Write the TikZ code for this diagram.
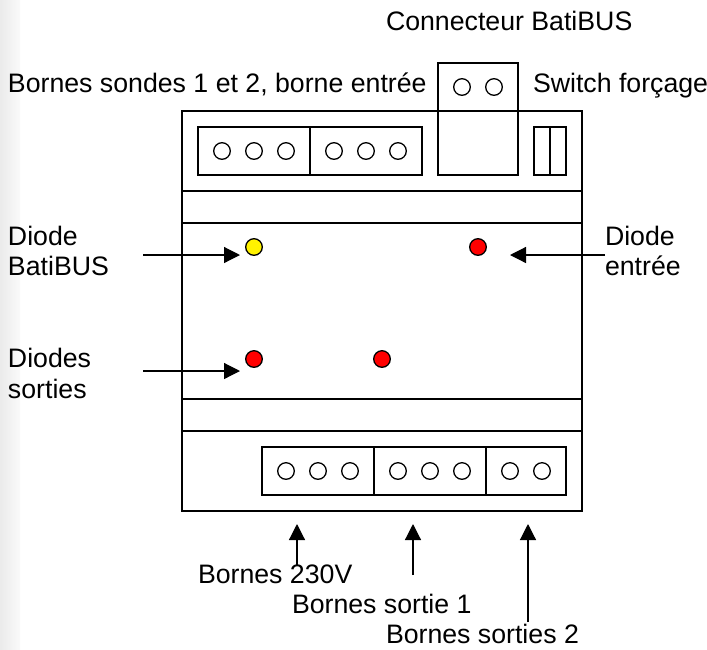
\documentclass[tikz,border=0pt]{standalone}
\usepackage{fontspec}
\setmainfont{Liberation Sans}
\usetikzlibrary{arrows.meta}
\tikzset{
  x=1pt,y=-1pt,
  lab/.style={anchor=base west,inner sep=0pt,outer sep=0pt,font=\fontsize{26.7}{30}\selectfont},
  body/.style={draw=black,line width=1.4pt},
  pin/.style={circle,draw=black,fill=white,line width=1.3pt,minimum size=16.6pt,inner sep=0pt},
  led/.style={circle,draw=black,line width=1.3pt,minimum size=16.6pt,inner sep=0pt},
  ptr/.style={draw=black,line width=1.2pt,-{Triangle[length=16pt,width=16pt]}},
}
\begin{document}
\begin{tikzpicture}
\useasboundingbox (0,0) rectangle (707,649);
\fill[white] (0,0) rectangle (707,649);
\fill[left color=black!8,right color=black!2] (0,0) rectangle (20,649);
% housing
\draw[body] (182,111) rectangle (582,511);
\draw[body] (182,191) -- (582,191);
\draw[body] (182,223) -- (582,223);
\draw[body] (182,399) -- (582,399);
\draw[body] (182,431) -- (582,431);
% top terminals
\draw[body] (198,127) rectangle (310,175);
\draw[body] (310,127) rectangle (422,175);
\foreach \n/\x in {a/222,b/254,c/286,d/334,e/366,f/398}
  \node[pin] (top\n) at (\x,151) {};
% connector
\draw[body] (438,63) rectangle (518,111);
\draw[body] (438,111) rectangle (518,175);
\node[pin] (cona) at (462,87) {};
\node[pin] (conb) at (494,87) {};
% switch
\draw[body] (534,127) rectangle (550,175);
\draw[body] (550,127) rectangle (566,175);
% diodes
\node[led,fill=yellow] (dbus) at (254,247) {};
\node[led,fill=red] (dent) at (478,247) {};
\node[led,fill=red] (dso1) at (254,359) {};
\node[led,fill=red] (dso2) at (382,359) {};
% bottom terminals
\draw[body] (262,447) rectangle (374,495);
\draw[body] (374,447) rectangle (486,495);
\draw[body] (486,447) rectangle (566,495);
\foreach \n/\x in {a/286,b/318,c/350,d/398,e/430,f/462,g/510,h/542}
  \node[pin] (bot\n) at (\x,471) {};
% labels
\node[lab] (lcon) at (386,30) {Connecteur BatiBUS};
\node[lab] (lbor) at (8,92) {Bornes sondes 1 et 2, borne entrée};
\node[lab] (lswi) at (533,92) {Switch forçage};
\node[lab] (ldb1) at (8,245) {Diode};
\node[lab] (ldb2) at (8,275) {BatiBUS};
\node[lab] (lde1) at (605,245) {Diode};
\node[lab] (lde2) at (605,275) {entrée};
\node[lab] (lds1) at (8,367) {Diodes};
\node[lab] (lds2) at (8,398) {sorties};
\node[lab] (l230) at (198,583) {Bornes 230V};
\node[lab] (ls1) at (292,613) {Bornes sortie 1};
\node[lab] (ls2) at (386,643) {Bornes sorties 2};
% arrows
\coordinate (a1s) at (143,255); \coordinate (a1e) at (240,255);
\coordinate (a2s) at (605,255); \coordinate (a2e) at (510,255);
\coordinate (a3s) at (143,371); \coordinate (a3e) at (240,371);
\coordinate (a4s) at (297,565); \coordinate (a4e) at (297,524);
\coordinate (a5s) at (413,575); \coordinate (a5e) at (413,524);
\coordinate (a6s) at (528,622); \coordinate (a6e) at (528,524);
\foreach \i in {1,...,6} \draw[ptr] (a\i s) -- (a\i e);
\end{tikzpicture}
\end{document}
